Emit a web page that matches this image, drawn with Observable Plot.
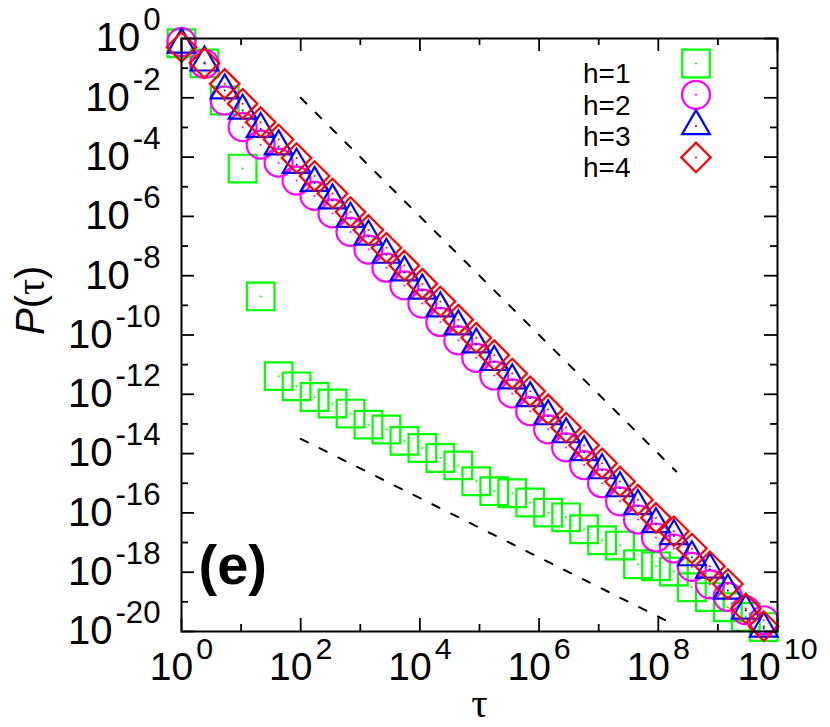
<!DOCTYPE html>
<html><head><meta charset="utf-8">
<script src="https://cdn.jsdelivr.net/npm/d3@7"></script>
<script src="https://cdn.jsdelivr.net/npm/@observablehq/plot@0.6"></script>
<style>body{margin:0;background:#fff}</style>
</head><body><div id="chart"></div>
<script>
// ---- data ----
const tau = [1, 2.43, 5.31, 10.6, 21.3, 42.6, 85.3, 171, 342, 685, 1371, 2745, 5495, 11000, 22030, 44110, 88310,
  1.768e5, 3.54e5, 7.09e5, 1.419e6, 2.842e6, 5.69e6, 1.139e7, 2.28e7, 4.566e7, 9.14e7, 1.83e8, 3.66e8, 7.34e8,
  1.469e9, 2.94e9, 5.89e9];
const pH1 = [6.9e-1, 1.45e-1, 8.1e-3, 4.1e-5, 2.0e-9, 4.1e-12, 1.86e-12, 8.1e-13, 4.9e-13, 2.24e-13, 9.5e-14, 6.5e-14,
  2.69e-14, 1.55e-14, 7.1e-15, 4.0e-15, 1.17e-15, 5.4e-16, 4.6e-16, 2.24e-16, 1.02e-16, 7.1e-17, 2.8e-17, 1.2e-17,
  7.9e-18, 1.86e-18, 1.58e-18, 1.05e-18, 3.1e-19, 1.45e-19, 6.6e-20, 3.1e-20, 1.41e-20];
const pH2 = [7.6e-1, 1.41e-1, 8.1e-3, 1.02e-3, 2.63e-4, 6.5e-5, 1.62e-5, 4.9e-6, 1.26e-6, 3.0e-7, 7.6e-8, 1.86e-8,
  4.7e-9, 1.15e-9, 2.75e-10, 6.6e-11, 1.70e-11, 4.3e-12, 1.07e-12, 2.7e-13, 6.6e-14, 1.62e-14, 4.1e-15, 1.0e-15,
  2.45e-16, 6.0e-17, 1.48e-17, 6.3e-18, 1.51e-18, 3.9e-19, 1.48e-19, 5.2e-20, 2.4e-20];
const pH3 = [6.2e-1, 1.55e-1, 1.78e-2, 3.7e-3, 8.9e-4, 2.29e-4, 5.5e-5, 1.35e-5, 3.47e-6, 8.3e-7, 2.09e-7, 5.1e-8,
  1.29e-8, 3.16e-9, 7.9e-10, 1.95e-10, 4.8e-11, 1.23e-11, 2.95e-12, 7.4e-13, 1.82e-13, 4.5e-14, 1.12e-14, 2.75e-15,
  6.8e-16, 1.70e-16, 4.2e-17, 1.66e-17, 3.2e-18, 1.23e-18, 2.4e-19, 5.1e-20, 1.26e-20];
const pH4 = [5.2e-1, 1.48e-1, 2.95e-2, 6.3e-3, 1.51e-3, 3.9e-4, 9.3e-5, 2.29e-5, 5.9e-6, 1.41e-6, 3.5e-7, 8.7e-8,
  2.19e-8, 5.4e-9, 1.35e-9, 3.3e-10, 8.1e-11, 2.09e-11, 5.0e-12, 1.26e-12, 3.1e-13, 7.6e-14, 1.91e-14, 4.7e-15,
  1.15e-15, 2.8e-16, 6.8e-17, 2.4e-17, 6.3e-18, 1.58e-18, 4.0e-19, 6.0e-20, 1.51e-20];
const seriesNames = ["h=1", "h=2", "h=3", "h=4"];
const seriesValues = [pH1, pH2, pH3, pH4];
const seriesColors = ["#00ff00", "#ff00ff", "#0000ff", "#ff0000"];
const seriesSymbols = ["square", "circle", "triangle", "diamond2"];
const seriesR = [15.6, 14, 10.3, 13.3];
// guide lines (slope -2 and slope -1)
const refTau = [1e2, 2e8];
const refUpper = [1e-2, 2.5e-15];
const refLower = [3.16e-14, 1.58e-20];
// ticks
const xMajor = [1, 1e2, 1e4, 1e6, 1e8, 1e10];
const xMinor = [1e1, 1e3, 1e5, 1e7, 1e9];
const yMajor = [1, 1e-2, 1e-4, 1e-6, 1e-8, 1e-10, 1e-12, 1e-14, 1e-16, 1e-18, 1e-20];
const yMinor = [1e-1, 1e-3, 1e-5, 1e-7, 1e-9, 1e-11, 1e-13, 1e-15, 1e-17, 1e-19];
const xLabel = "τ";
const yLabel = "P(τ)";
const panelLabel = "(e)";

// ---- layout ----
const W = 830, H = 727, ML = 181, MR = 53, MT = 38, MB = 96;
const FW = W - ML - MR, FH = H - MT - MB;
const majorLen = 13, minorLen = 7;
const ink = "#000";

const marks = [];
// ticks on all four sides, pointing inward
function ticksX(vals, len) {
  marks.push(Plot.ruleX(vals, {x: d => d, insetTop: FH - len, stroke: ink, strokeWidth: 1.8}));
  marks.push(Plot.ruleX(vals, {x: d => d, insetBottom: FH - len, stroke: ink, strokeWidth: 1.8}));
}
function ticksY(vals, len) {
  marks.push(Plot.ruleY(vals, {y: d => d, insetRight: FW - len, stroke: ink, strokeWidth: 1.8}));
  marks.push(Plot.ruleY(vals, {y: d => d, insetLeft: FW - len, stroke: ink, strokeWidth: 1.8}));
}
ticksX(xMajor, majorLen); ticksX(xMinor, minorLen);
ticksY(yMajor, majorLen); ticksY(yMinor, minorLen);

const expFmt = d => "10^" + Math.round(Math.log10(d));
marks.push(Plot.axisX({ticks: xMajor, tickSize: 0, tickPadding: 21, tickFormat: expFmt, fontSize: 39, label: null}));
marks.push(Plot.axisY({ticks: yMajor, tickSize: 0, tickPadding: 21, tickFormat: expFmt, fontSize: 40, label: null}));

// guide lines
marks.push(Plot.line(refTau.map((t, i) => ({t, p: refUpper[i]})), {x: "t", y: "p", stroke: ink, strokeWidth: 2, strokeDasharray: "8,13"}));
marks.push(Plot.line(refTau.map((t, i) => ({t, p: refLower[i]})), {x: "t", y: "p", stroke: ink, strokeWidth: 2, strokeDasharray: "8,13"}));

// series
seriesValues.forEach((vals, s) => {
  const rows = tau.map((t, i) => ({t, p: vals[i]}));
  marks.push(Plot.dot(rows, {x: "t", y: "p", symbol: seriesSymbols[s], r: seriesR[s], stroke: seriesColors[s], strokeWidth: 2.2, fill: "none"}));
  marks.push(Plot.dot(rows, {x: "t", y: "p", r: 1, fill: seriesColors[s], stroke: "none"}));
});

// legend (inside, top-right)
seriesNames.forEach((name, s) => {
  const dy = 25 + 31.3 * s;
  marks.push(Plot.dot([name], {x: null, y: null, frameAnchor: "top-right", dx: -81.5, dy, symbol: seriesSymbols[s], r: seriesR[s], stroke: seriesColors[s], strokeWidth: 2.2, fill: "none"}));
  marks.push(Plot.dot([name], {x: null, y: null, frameAnchor: "top-right", dx: -81.5, dy, r: 1, fill: seriesColors[s], stroke: "none"}));
  marks.push(Plot.text([name], {x: null, y: null, frameAnchor: "top-right", dx: -147, dy, textAnchor: "end", fontSize: 28, fill: ink}));
});

// labels
marks.push(Plot.text([panelLabel], {x: null, y: null, frameAnchor: "bottom-left", dx: 17, dy: -48, textAnchor: "start", fontSize: 56, fontWeight: "bold", fill: ink}));
marks.push(Plot.text([yLabel], {x: null, y: null, frameAnchor: "left", dx: -150, rotate: -90, fontSize: 40, fill: ink}));
marks.push(Plot.text([xLabel], {x: null, y: null, frameAnchor: "bottom", dy: 85, lineAnchor: "bottom", fontSize: 41, fontFamily: "'Liberation Serif', serif", fill: ink}));

marks.push(Plot.frame({stroke: ink, strokeWidth: 2}));

const chart = Plot.plot({
  width: W, height: H,
  marginLeft: ML, marginRight: MR, marginTop: MT, marginBottom: MB,
  x: {type: "log", domain: [1, 1e10]},
  y: {type: "log", domain: [1e-20, 1]},
  style: {fontFamily: "'Liberation Sans', Arial, sans-serif", background: "#fff", color: "#000"},
  marks
});

// superscript exponents in tick labels
const NS = "http://www.w3.org/2000/svg";
chart.querySelectorAll('g[aria-label="x-axis tick label"] text, g[aria-label="y-axis tick label"] text').forEach(t => {
  const s = t.textContent;
  const m = s.match(/^10\^(-?\d+)$/);
  if (!m) return;
  t.textContent = "10";
  const sp = document.createElementNS(NS, "tspan");
  sp.setAttribute("dy", "-21");
  sp.setAttribute("dx", "3");
  sp.setAttribute("font-size", "0.78em");
  sp.textContent = m[1];
  t.appendChild(sp);
});
// italic P in the y label
chart.querySelectorAll("text").forEach(t => {
  if (t.textContent === yLabel) {
    t.textContent = "";
    const a = document.createElementNS(NS, "tspan");
    a.setAttribute("font-style", "italic"); a.textContent = "P";
    const b = document.createElementNS(NS, "tspan"); b.textContent = "(";
    const c = document.createElementNS(NS, "tspan");
    c.setAttribute("font-family", "'Liberation Serif', serif"); c.textContent = "τ";
    const d = document.createElementNS(NS, "tspan"); d.textContent = ")";
    t.append(a, b, c, d);
  }
});
document.getElementById("chart").appendChild(chart);
</script>
</body></html>
